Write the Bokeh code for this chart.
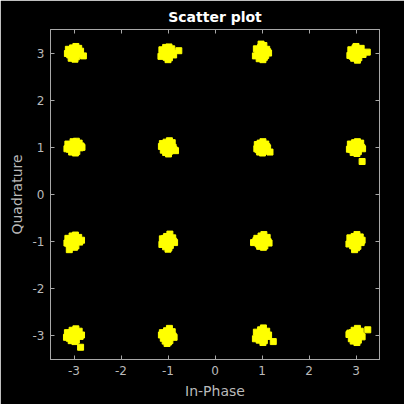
from bokeh.plotting import figure
from bokeh.models import LinearAxis, FixedTicker, CustomJSTickFormatter
from bokeh.embed import file_html
from bokeh.resources import INLINE

ticks = [-3, -2, -1, 0, 1, 2, 3]

in_phase = [
    -3.00, -2.92, -3.07, -2.95, -3.09, -2.88, -3.03, -2.98, -3.12, -2.90, -3.06, -2.86, -3.14, -2.96, -2.80,
    -1.02, -0.94, -1.09, -0.97, -1.11, -0.90, -1.05, -1.00, -1.13, -0.92, -1.04, -0.88, -1.15, -0.98, -0.77,
    1.00, 1.08, 0.93, 1.05, 0.91, 1.12, 0.97, 1.02, 0.88, 1.10, 0.94, 1.14, 0.86, 1.04, 0.98,
    3.01, 3.09, 2.94, 3.06, 2.92, 3.13, 2.98, 3.03, 2.89, 3.11, 2.95, 3.15, 2.87, 3.00, 3.24,
    -2.99, -2.91, -3.08, -2.94, -3.10, -2.87, -3.02, -2.97, -3.13, -2.89, -3.05, -2.85, -3.15, -2.95, -2.83,
    -1.01, -0.93, -1.08, -0.96, -1.10, -0.89, -1.04, -0.99, -1.12, -0.91, -1.05, -0.87, -1.14, -0.97, -0.84,
    0.99, 1.06, 0.93, 1.04, 0.92, 1.10, 0.96, 1.01, 0.90, 1.08, 0.95, 1.12, 0.89, 1.02, 1.17,
    3.00, 3.08, 2.93, 3.05, 2.91, 3.12, 2.97, 3.02, 2.88, 3.10, 2.94, 3.14, 2.86, 3.03, 3.13,
    -3.01, -2.93, -3.09, -2.96, -3.11, -2.88, -3.04, -2.99, -3.13, -2.90, -3.06, -2.84, -3.15, -2.97, -3.10,
    -0.99, -0.92, -1.07, -0.95, -1.09, -0.88, -1.03, -0.98, -1.12, -0.90, -1.05, -0.86, -1.13, -0.96, -1.00,
    1.01, 1.09, 0.94, 1.06, 0.92, 1.13, 0.98, 1.03, 0.89, 1.11, 0.95, 1.15, 0.87, 1.04, 0.82,
    2.99, 3.07, 2.92, 3.04, 2.90, 3.11, 2.96, 3.01, 2.87, 3.09, 2.93, 3.13, 2.85, 3.02, 2.97,
    -3.00, -2.92, -3.08, -2.95, -3.10, -2.87, -3.04, -2.98, -3.14, -2.89, -3.06, -2.84, -3.16, -2.96, -2.86,
    -1.00, -0.93, -1.08, -0.96, -1.10, -0.89, -1.03, -0.99, -1.12, -0.91, -1.06, -0.87, -1.14, -0.97, -1.02,
    1.00, 1.08, 0.93, 1.05, 0.91, 1.12, 0.97, 1.02, 0.88, 1.10, 0.94, 1.14, 0.86, 1.03, 1.24,
    3.00, 3.07, 2.92, 3.05, 2.90, 3.11, 2.96, 3.02, 2.87, 3.09, 2.94, 3.13, 2.85, 3.03, 3.25,
]

quadrature = [
    3.00, 3.05, 3.06, 2.92, 2.96, 2.98, 3.11, 2.87, 3.08, 3.10, 2.89, 3.04, 2.99, 3.14, 2.94,
    2.98, 3.04, 3.02, 2.90, 2.95, 3.00, 3.12, 2.86, 3.07, 3.09, 2.91, 2.96, 2.93, 3.13, 3.05,
    3.01, 2.95, 3.06, 2.91, 2.97, 3.03, 3.12, 2.86, 3.09, 3.08, 2.88, 3.00, 2.94, 3.16, 3.19,
    2.99, 3.06, 3.04, 2.90, 2.93, 3.01, 3.11, 2.85, 3.07, 3.10, 2.89, 2.97, 2.95, 3.14, 3.02,
    1.01, 1.06, 1.05, 0.91, 0.96, 0.99, 1.12, 0.88, 1.07, 1.09, 0.90, 1.03, 0.97, 1.13, 1.00,
    0.99, 1.04, 1.06, 0.92, 0.94, 1.00, 1.11, 0.86, 1.08, 1.10, 0.89, 0.95, 1.02, 1.14, 0.93,
    1.00, 0.96, 1.05, 0.92, 0.95, 1.02, 1.09, 0.88, 1.06, 1.07, 0.90, 0.99, 0.97, 1.12, 0.90,
    1.01, 1.05, 1.04, 0.91, 0.95, 1.00, 1.10, 0.87, 1.07, 1.09, 0.89, 0.97, 0.96, 1.12, 0.70,
    -0.99, -0.94, -0.95, -1.09, -1.05, -1.01, -0.88, -1.12, -0.93, -0.91, -1.10, -0.97, -1.03, -0.86, -1.17,
    -1.00, -0.95, -0.93, -1.08, -1.04, -0.99, -0.89, -1.13, -0.94, -0.92, -1.11, -1.02, -1.06, -0.84, -1.16,
    -1.01, -0.96, -0.94, -1.09, -1.05, -1.00, -0.88, -1.12, -0.93, -0.91, -1.10, -1.03, -0.98, -0.85, -1.02,
    -0.99, -0.94, -0.96, -1.10, -1.04, -1.02, -0.89, -1.13, -0.92, -0.90, -1.09, -0.97, -1.05, -0.85, -1.17,
    -3.00, -2.95, -2.94, -3.09, -3.05, -3.01, -2.88, -3.12, -2.93, -2.90, -3.10, -2.98, -3.03, -2.85, -3.24,
    -3.01, -2.96, -2.94, -3.10, -3.05, -3.00, -2.89, -3.13, -2.93, -2.91, -3.11, -3.03, -2.98, -2.84, -3.16,
    -2.99, -2.94, -2.95, -3.10, -3.04, -3.01, -2.87, -3.14, -2.92, -2.90, -3.09, -2.98, -3.06, -2.83, -3.12,
    -3.01, -2.95, -2.93, -3.09, -3.06, -3.00, -2.88, -3.14, -2.94, -2.90, -3.11, -3.02, -2.97, -2.84, -2.87,
]

AX = "#a8a8a8"
TXT = "#bababa"
FONT = "DejaVu Sans"

p = figure(width=404, height=404, x_range=(-3.5, 3.5), y_range=(-3.5, 3.5),
           output_backend="svg", toolbar_location=None,
           background_fill_color="black", border_fill_color="black",
           min_border_left=50, min_border_right=25, min_border_top=29, min_border_bottom=45,
           x_axis_label="In-Phase", y_axis_label="Quadrature")

p.title.text = "Scatter plot"
p.title.align = "center"
p.title.text_color = "white"
p.title.text_font = FONT
p.title.text_font_size = "14px"
p.title.text_font_style = "bold"

p.grid.visible = False
p.outline_line_color = AX

fmt = CustomJSTickFormatter(code="return String(tick);")
blank = CustomJSTickFormatter(code="return '';")

for ax in p.axis:
    ax.ticker = FixedTicker(ticks=ticks)
    ax.formatter = fmt
    ax.major_tick_in = 4
    ax.major_tick_out = 0
    ax.minor_tick_line_color = None
    ax.axis_line_color = AX
    ax.major_tick_line_color = AX
    ax.major_label_text_color = TXT
    ax.major_label_text_font = FONT
    ax.major_label_text_font_size = "12px"
    ax.axis_label_text_color = TXT
    ax.axis_label_text_font = FONT
    ax.axis_label_text_font_size = "14px"
    ax.axis_label_text_font_style = "normal"
    ax.axis_label_standoff = 5
    ax.major_label_standoff = 6

for loc in ("above", "right"):
    a = LinearAxis(ticker=FixedTicker(ticks=ticks), formatter=blank,
                   major_tick_in=4, major_tick_out=0,
                   minor_tick_line_color=None, axis_line_color=AX, major_tick_line_color=AX,
                   major_label_text_color=None, major_label_standoff=0)
    p.add_layout(a, loc)

p.scatter(in_phase, quadrature, marker="square", size=6, fill_color="#ffff00",
          line_color="#ffff00")

open("out.html", "w").write(file_html(p, INLINE))
